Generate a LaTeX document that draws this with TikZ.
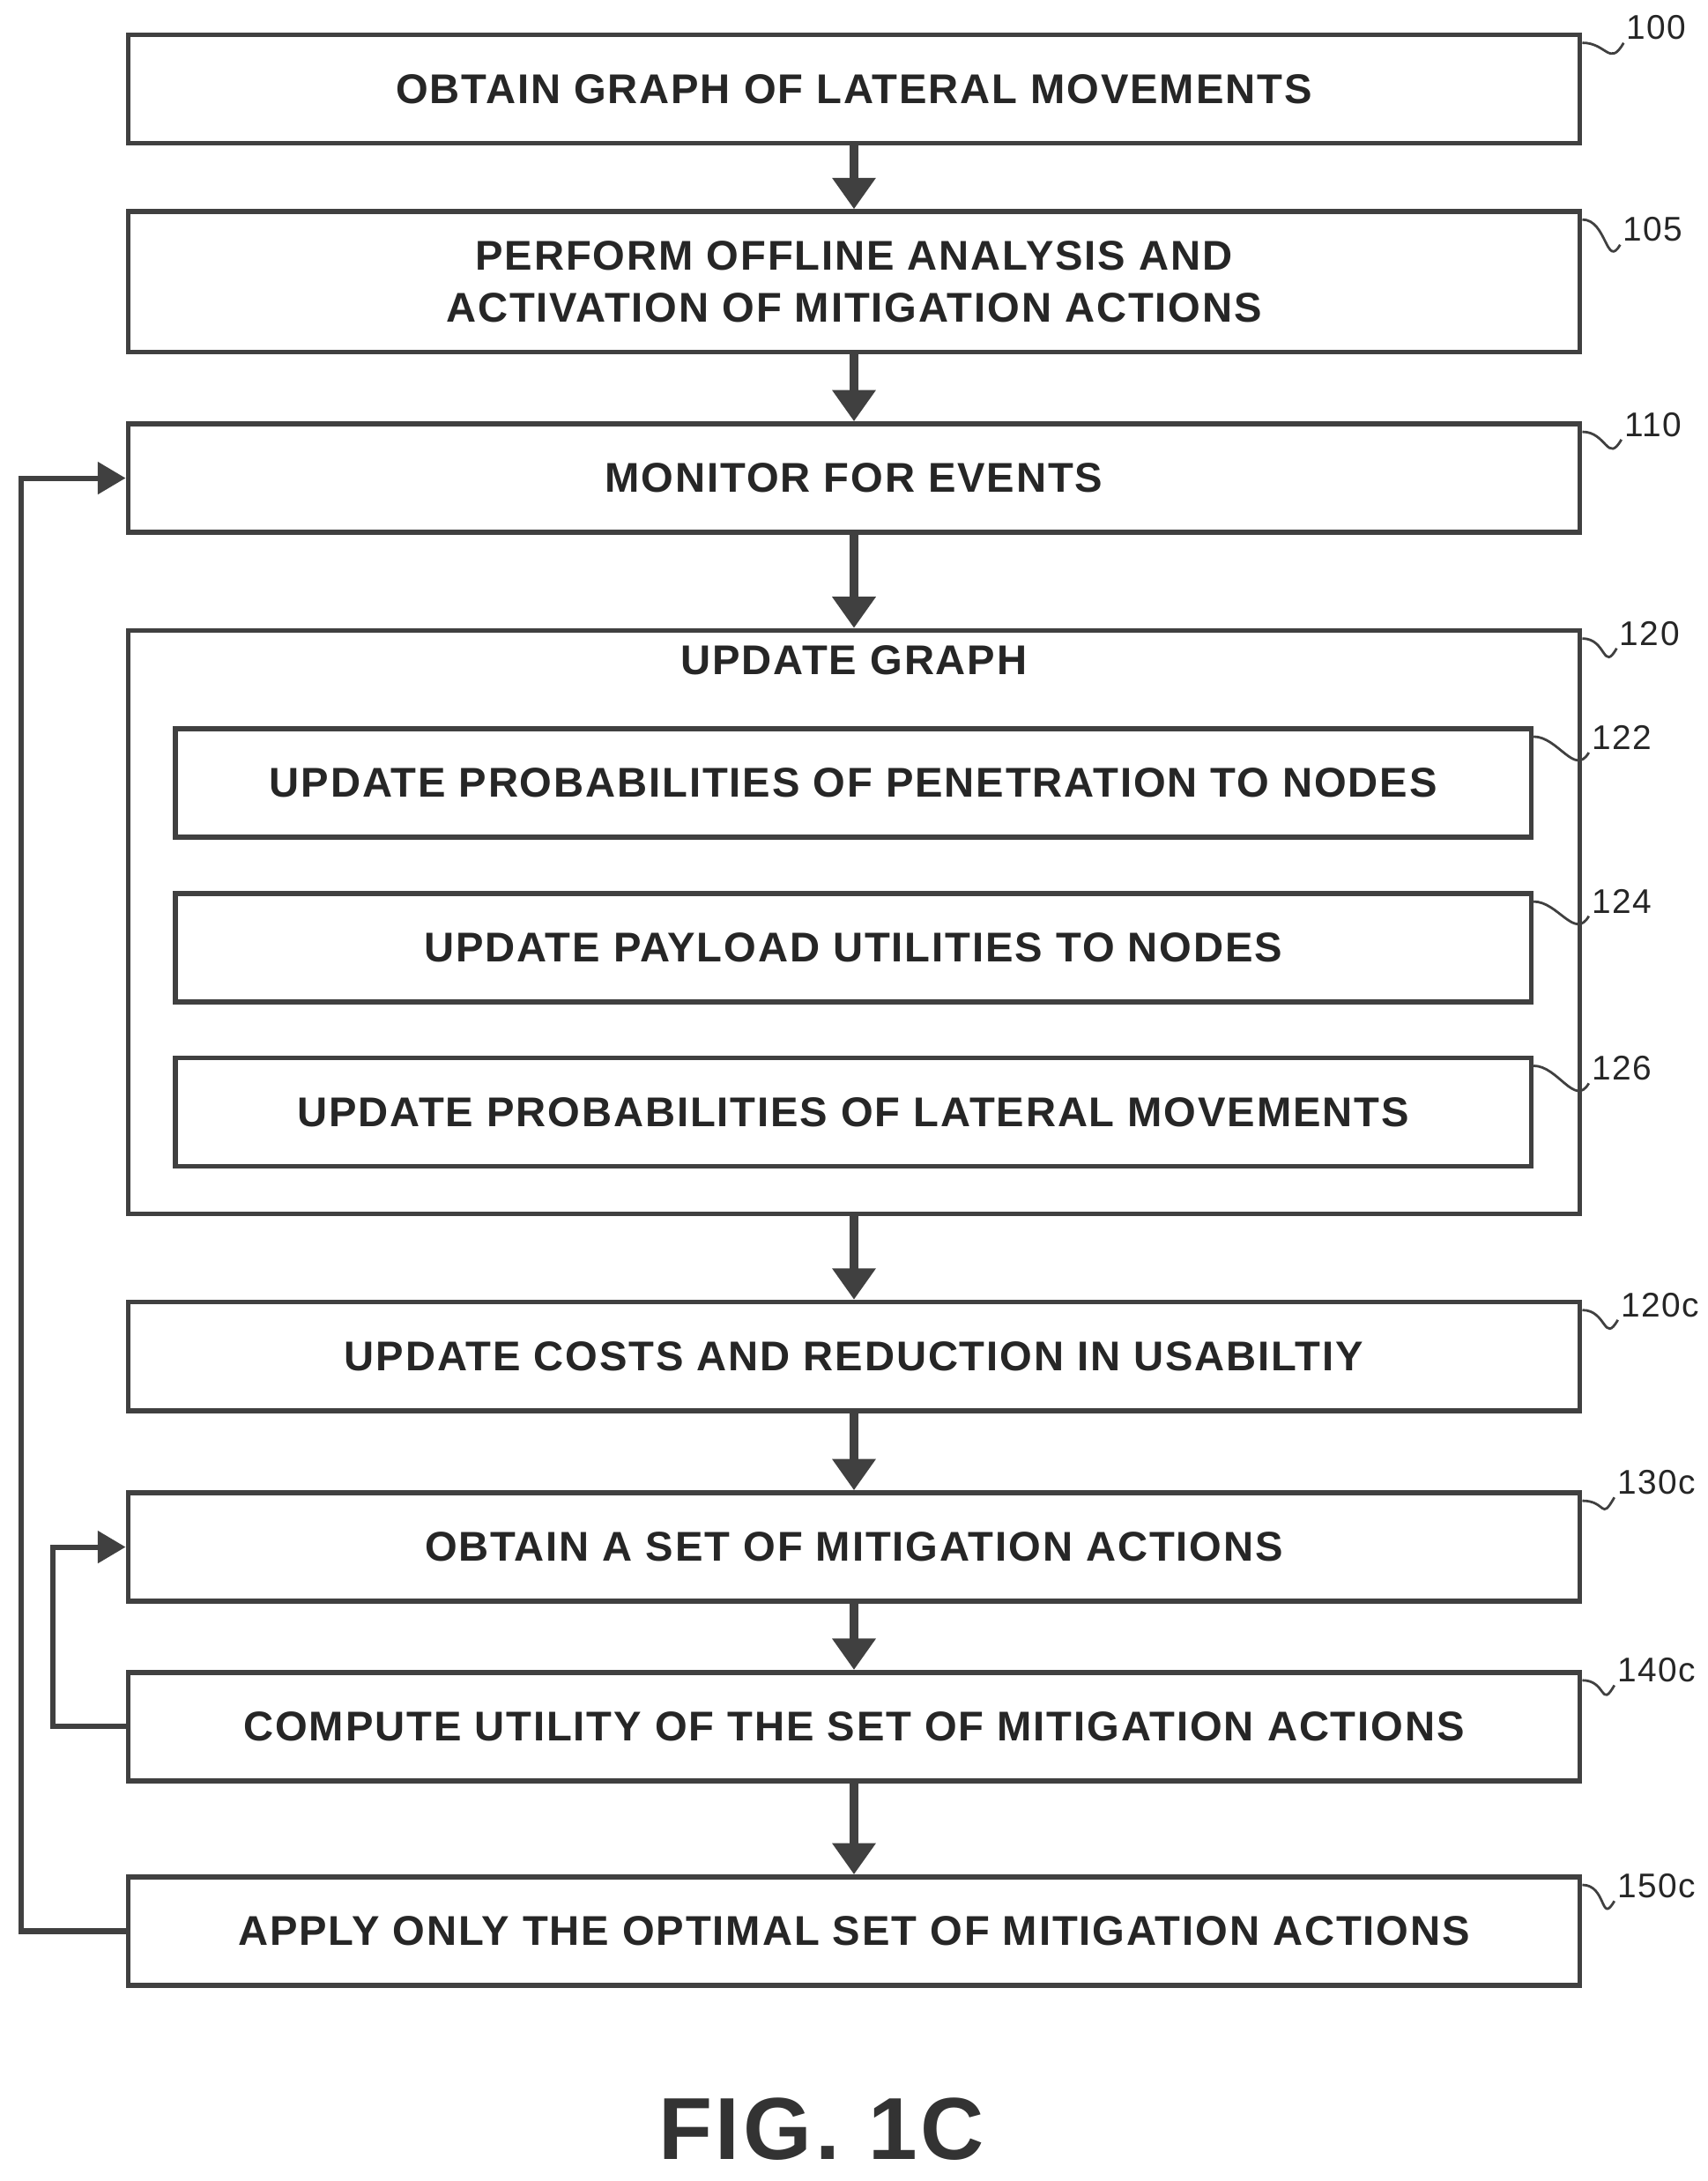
\documentclass[tikz,border=0pt]{standalone}
\usepackage{fontspec}
\setmainfont{Liberation Sans}[LetterSpace=4]
\usetikzlibrary{arrows.meta, positioning}

\tikzset{
    stepbox/.style={draw=black!75, line width=2pt, minimum height=1.56cm, text=black!85,
        font=\bfseries\fontsize{17}{21}\selectfont, align=center},
    mainbox/.style={stepbox, minimum width=20.86cm},
    subbox/.style={stepbox, minimum width=19.48cm},
    flow/.style={draw=black!75, line width=3.5pt, -{Triangle[length=0.45cm, width=0.6cm]}},
    back/.style={draw=black!75, line width=2.2pt, -{Triangle[length=0.4cm, width=0.45cm]}},
    refnum/.style={font=\fontsize{14}{16}\selectfont, text=black!85, inner sep=1pt},
    squig/.style={draw=black!75, line width=1pt}
}

\begin{document}
\begin{tikzpicture}
    \useasboundingbox (0,0) rectangle (24.54,-31.34);

    \node[mainbox] (s100) at (12.27,-1.28) {OBTAIN GRAPH OF LATERAL MOVEMENTS};
    \node[mainbox, minimum height=2.02cm] (s105) at (12.27,-4.05)
        {PERFORM OFFLINE ANALYSIS AND\\ACTIVATION OF MITIGATION ACTIONS};
    \node[mainbox] (s110) at (12.27,-6.87) {MONITOR FOR EVENTS};
    \node[mainbox, minimum height=8.38cm] (s120) at (12.27,-13.25) {};
    \node[stepbox, draw=none, minimum height=0pt, inner sep=2pt, anchor=north] (t120) at ([yshift=-0.15cm]s120.north) {UPDATE GRAPH};
    \node[subbox] (s122) at (12.26,-11.25) {UPDATE PROBABILITIES OF PENETRATION TO NODES};
    \node[subbox] (s124) at (12.26,-13.62) {UPDATE PAYLOAD UTILITIES TO NODES};
    \node[subbox] (s126) at (12.26,-15.98) {UPDATE PROBABILITIES OF LATERAL MOVEMENTS};
    \node[mainbox] (s120c) at (12.27,-19.49) {UPDATE COSTS AND REDUCTION IN USABILTIY};
    \node[mainbox] (s130c) at (12.27,-22.23) {OBTAIN A SET OF MITIGATION ACTIONS};
    \node[mainbox] (s140c) at (12.27,-24.81) {COMPUTE UTILITY OF THE SET OF MITIGATION ACTIONS};
    \node[mainbox] (s150c) at (12.27,-27.75) {APPLY ONLY THE OPTIMAL SET OF MITIGATION ACTIONS};

    \node[font=\bfseries\fontsize{36}{40}\selectfont, text=black!80] (fig) at (11.8,-30.6) {FIG. 1C};

    % flow arrows
    \draw[flow] (s100) -- (s105);
    \draw[flow] (s105) -- (s110);
    \draw[flow] (s110) -- (s120);
    \draw[flow] (s120) -- (s120c);
    \draw[flow] (s120c) -- (s130c);
    \draw[flow] (s130c) -- (s140c);
    \draw[flow] (s140c) -- (s150c);

    % loops
    \coordinate (outer) at (0.3,0);
    \coordinate (inner) at (0.76,0);
    \draw[back] (s150c.west) -| (outer |- s110.west) -- (s110.west);
    \draw[back] (s140c.west) -| (inner |- s130c.west) -- (s130c.west);

    % reference numerals
    \foreach \s/\t/\x/\y in {s100/100/23.8/-0.4, s105/105/23.75/-3.3, s110/110/23.75/-6.1,
        s120/120/23.7/-9.1, s122/122/23.3/-10.6, s124/124/23.3/-12.95, s126/126/23.3/-15.35,
        s120c/120c/23.85/-18.75, s130c/130c/23.8/-21.3, s140c/140c/23.8/-24.0, s150c/150c/23.8/-27.1}
    {
        \node[refnum] (n\t) at (\x,\y) {\t};
        \draw[squig] ([yshift=-0.15cm]\s.north east) .. controls +(0.35,0) and +(-0.2,-0.35) .. (n\t.south west);
    }
\end{tikzpicture}
\end{document}
